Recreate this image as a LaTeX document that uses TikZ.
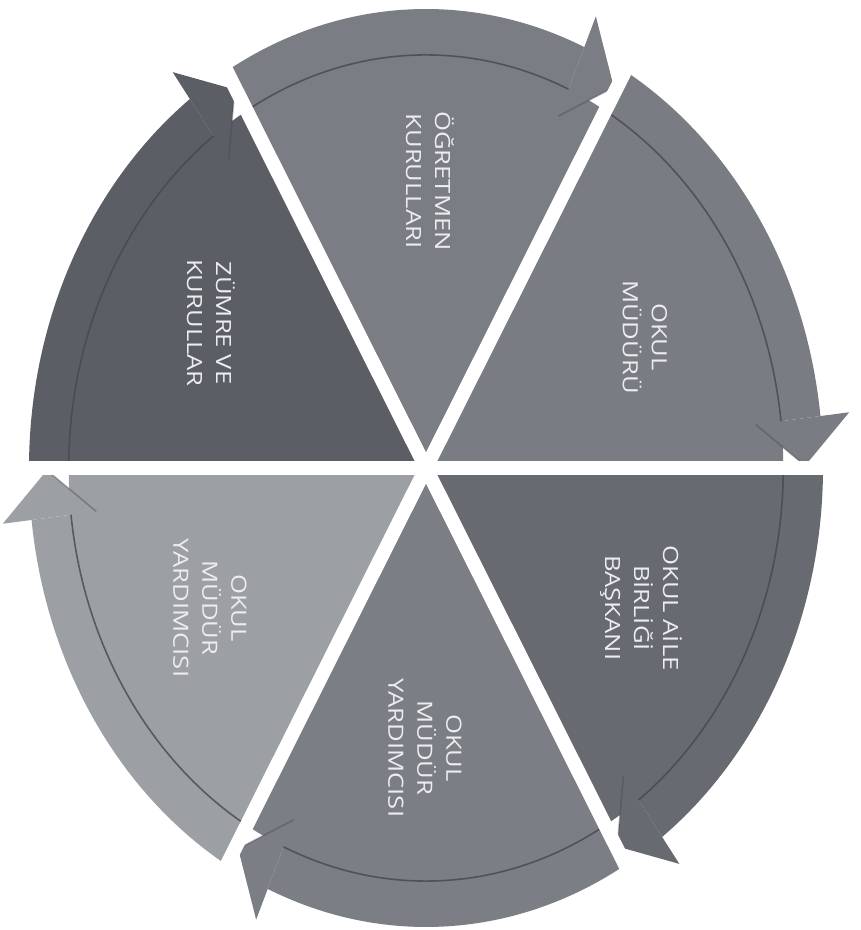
\documentclass[tikz,border=0pt]{standalone}
\usepackage{fontspec}
\setmainfont{Open Sans}
\usepackage{graphicx}
\definecolor{cTop}{HTML}{7A7E84}
\definecolor{cUR}{HTML}{797D83}
\definecolor{cLR}{HTML}{676B71}
\definecolor{cBot}{HTML}{7B7F85}
\definecolor{cLL}{HTML}{9C9FA3}
\definecolor{cUL}{HTML}{5B5F65}
\definecolor{cShade}{HTML}{45484D}
\definecolor{cText}{HTML}{ECEDEE}
\newcommand{\strtxt}[1]{\scalebox{1.22}[1]{#1}}
\tikzset{
  shadeline/.style={draw=cShade, line width=1.6pt},
  gapline/.style={draw=white, line width=14pt},
  lbl/.style={rotate=-90, align=center, text=cText, inner sep=0pt,
    font=\fontsize{21}{29}\selectfont}
}
\newcommand{\cycseg}[3]{%
  \fill[#3] (0,0) -- ({#1}:1) arc[start angle={#1}, end angle={#2+6.5}, radius=1]
     -- ({#2+6.5}:0.9) arc[start angle={#2+6.5}, end angle={#2}, radius=0.9] -- cycle;
  \fill[#3] ({#2+6.5}:1.073) -- ({#2+0.3}:0.955) -- ({#2+6.5}:0.836) -- cycle;
  \draw[shadeline, opacity=0.8] ({#1}:0.9) arc[start angle={#1}, end angle={#2+6.5}, radius=0.9];
  \draw[shadeline, opacity=0.4] ({#2+6.5}:0.836) -- ({#2+0.3}:0.955);
}
\begin{document}
\begin{tikzpicture}[x=1pt,y=1pt]
\useasboundingbox (0,0) rectangle (861,930);
\fill[white] (0,0) rectangle (861,930);
\begin{scope}[shift={(426,462)}, xscale=397, yscale=459]
  \cycseg{120}{60}{cTop}
  \cycseg{60}{0}{cUR}
  \cycseg{0}{-60}{cLR}
  \cycseg{-60}{-120}{cBot}
  \cycseg{-120}{-180}{cLL}
  \cycseg{180}{120}{cUL}
  \coordinate (gW) at (180:1.2);
  \coordinate (gE) at (0:1.2);
  \coordinate (gNE) at (60:1.2);
  \coordinate (gSW) at (240:1.2);
  \coordinate (gNW) at (120:1.2);
  \coordinate (gSE) at (300:1.2);
  \draw[gapline] (gW) -- (gE);
  \draw[gapline] (gNE) -- (gSW);
  \draw[gapline] (gNW) -- (gSE);
  \fill[white] (0,0) circle[radius=0.022];
\end{scope}
\node[lbl] (t1) at (430,749) {\strtxt{ÖĞRETMEN}\\\strtxt{KURULLARI}};
\node[lbl] (t2) at (645,593) {\strtxt{OKUL}\\\strtxt{MÜDÜRÜ}};
\node[lbl] (t3) at (641,322) {\strtxt{OKUL AİLE}\\\strtxt{BİRLİĞİ}\\\strtxt{BAŞKANI}};
\node[lbl] (t4) at (425,182) {\strtxt{OKUL}\\\strtxt{MÜDÜR}\\\strtxt{YARDIMCISI}};
\node[lbl] (t5) at (210,322) {\strtxt{OKUL}\\\strtxt{MÜDÜR}\\\strtxt{YARDIMCISI}};
\node[lbl] (t6) at (211,607) {\strtxt{ZÜMRE VE}\\\strtxt{KURULLAR}};
\end{tikzpicture}
\end{document}
